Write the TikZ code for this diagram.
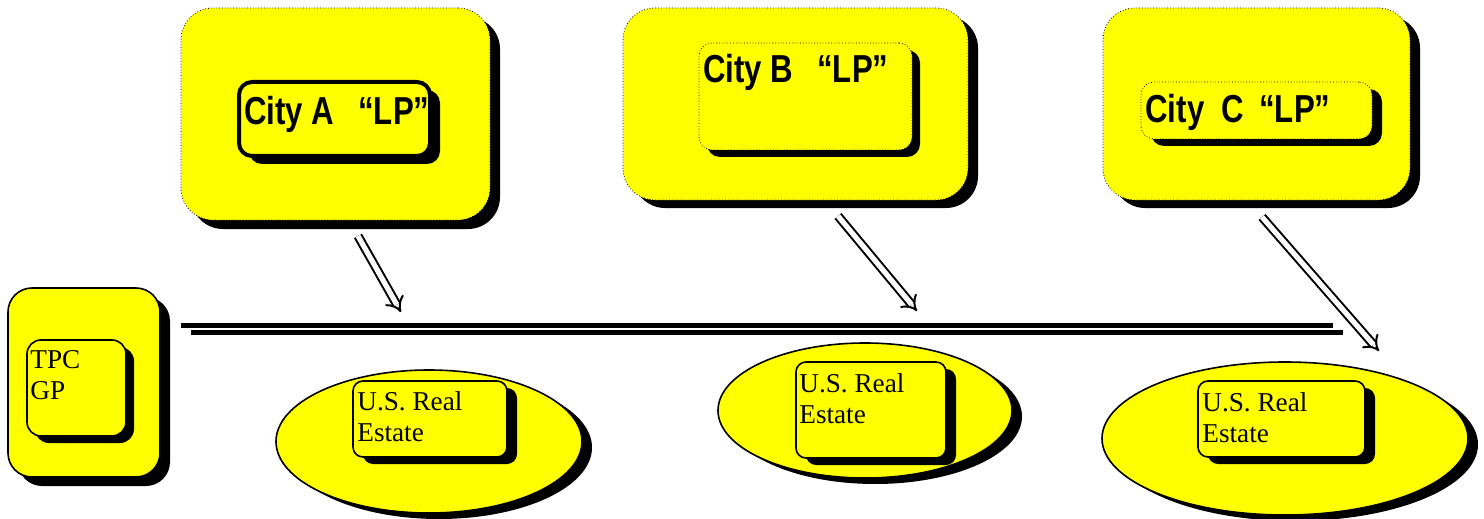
\documentclass[tikz,border=0pt]{standalone}
\usepackage{fontspec}
\setmainfont{Liberation Serif}
\newfontfamily\narrowfont{Liberation Sans}[FakeStretch=0.8]
\usetikzlibrary{shapes.geometric,shadows,arrows.meta}
\definecolor{boxyellow}{RGB}{255,255,0}
\begin{document}
\begin{tikzpicture}[x=0.5pt,y=-0.5pt,
  blk/.style 2 args={general shadow={fill=black,shadow xshift=#1,shadow yshift=#2}},
  cityouter/.style={draw, densely dotted, line width=0.4pt, fill=boxyellow, rounded corners=16pt, inner sep=0pt},
  cityinner/.style={draw, fill=boxyellow, rounded corners=6.5pt, inner sep=0pt},
  dotinner/.style={cityinner, densely dotted, line width=0.4pt},
  solidbox/.style={draw, solid, line width=0.8pt, fill=boxyellow, inner sep=0pt},
  estate/.style={solidbox, ellipse},
  citytext/.style={font=\narrowfont\bfseries\fontsize{19.5}{22}\selectfont, inner sep=0pt, anchor=base west},
  plaintext/.style={font=\fontsize{13.6}{15.5}\selectfont, inner sep=0pt, align=left, anchor=north west},
  rail/.style={line width=2.5pt},
  flow/.style={line width=1pt, double distance=2.6pt, -{Implies}},
]
\useasboundingbox (0,0) rectangle (1484,519);

% City A
\node[cityouter, minimum width=154.5pt, minimum height=106pt, blk={5pt}{-4.5pt}] (cityAout) at (335.5,114) {};
\node[cityinner, line width=2pt, minimum width=95.5pt, minimum height=37pt, blk={5pt}{-4pt}] (cityAin) at (334.5,119) {};
\node[citytext] (cityAtxt) at (244,125) {City A\ \ \,“LP”};

% City B
\node[cityouter, minimum width=172.5pt, minimum height=96pt, blk={5pt}{-4pt}] (cityBout) at (795.5,104) {};
\node[dotinner, minimum width=106.5pt, minimum height=53.5pt, blk={4pt}{-3.5pt}] (cityBin) at (805.5,96.5) {};
\node[citytext] (cityBtxt) at (703,83) {City B\ \ \,“LP”};

% City C
\node[cityouter, minimum width=153.5pt, minimum height=96pt, blk={5pt}{-4pt}] (cityCout) at (1256.5,104) {};
\node[dotinner, minimum width=115.5pt, minimum height=28.5pt, blk={5pt}{-3.5pt}] (cityCin) at (1256.5,110.5) {};
\node[citytext] (cityCtxt) at (1145,123) {City\ \ C\ \,“LP”};

% TPC GP
\node[solidbox, rounded corners=12pt, minimum width=76pt, minimum height=94.5pt, blk={5pt}{-4.5pt}] (tpcout) at (84,382.5) {};
\node[solidbox, rounded corners=7pt, minimum width=49.5pt, minimum height=48pt, blk={4pt}{-3.5pt}] (tpcin) at (76.5,388) {};
\node[plaintext] (tpctxt) at (30,350) {TPC\\GP};

% Estates
\node[estate, minimum width=153pt, minimum height=71.5pt, blk={5pt}{-3pt}] (ellA) at (429,441.5) {};
\node[solidbox, rounded corners=5pt, minimum width=77pt, minimum height=38pt, blk={5pt}{-3.5pt}] (reA) at (430,419) {};
\node[plaintext] (reAtxt) at (357,391) {U.S. Real\\Estate};

\node[estate, minimum width=147pt, minimum height=67.5pt, blk={5pt}{-3pt}] (ellB) at (865,410.5) {};
\node[solidbox, rounded corners=5pt, minimum width=75pt, minimum height=48pt, blk={5pt}{-3.5pt}] (reB) at (871,410) {};
\node[plaintext] (reBtxt) at (799,373) {U.S. Real\\Estate};

\node[estate, minimum width=183pt, minimum height=76.5pt, blk={5pt}{-3pt}] (ellC) at (1285,438.5) {};
\node[solidbox, rounded corners=5pt, minimum width=83.5pt, minimum height=38pt, blk={5pt}{-3.5pt}] (reC) at (1281.5,419) {};
\node[plaintext] (reCtxt) at (1202,392) {U.S. Real\\Estate};

% rails
\coordinate (r1a) at (181,325);
\coordinate (r1b) at (1333,325);
\coordinate (r2a) at (191,332);
\coordinate (r2b) at (1343,332);
\draw[rail] (r1a) -- (r1b);
\draw[rail] (r2a) -- (r2b);

% arrows
\coordinate (aAs) at (358,236);
\coordinate (aAe) at (401,312);
\coordinate (aBs) at (838,216);
\coordinate (aBe) at (917,311);
\coordinate (aCs) at (1262,217);
\coordinate (aCe) at (1379,351);
\draw[flow] (aAs) -- (aAe);
\draw[flow] (aBs) -- (aBe);
\draw[flow] (aCs) -- (aCe);
\end{tikzpicture}
\end{document}
